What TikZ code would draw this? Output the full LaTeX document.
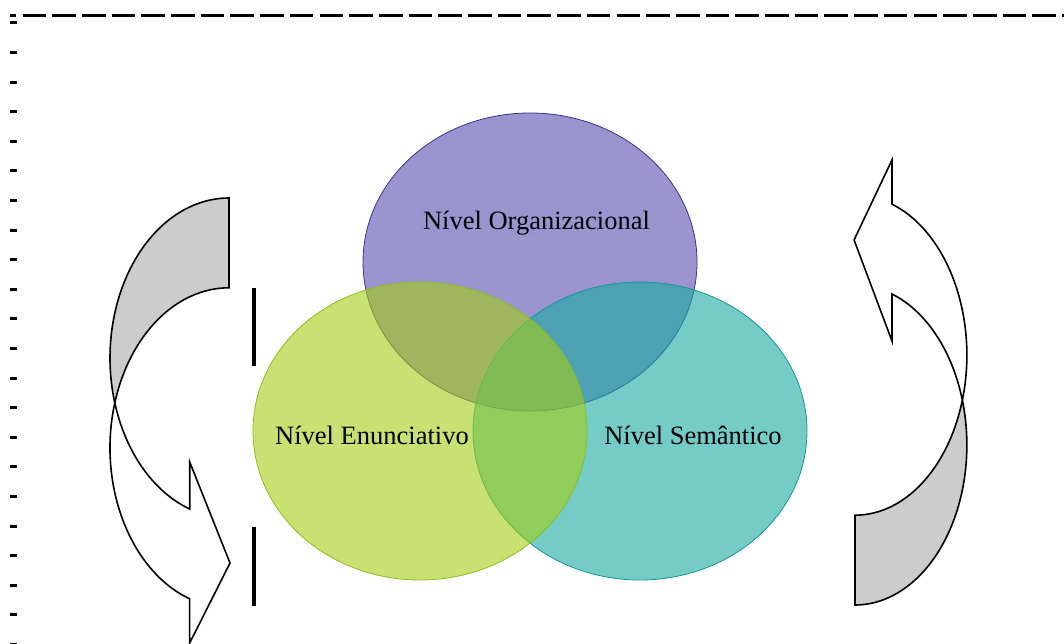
\documentclass[tikz,border=0pt]{standalone}
\usepackage{fontspec}
\setmainfont{Liberation Serif}
\usepackage{tikz}
\usetikzlibrary{shapes.geometric}

\definecolor{orgfill}{RGB}{88,76,175}
\definecolor{orgline}{RGB}{60,50,140}
\definecolor{enufill}{RGB}{163,205,20}
\definecolor{enuline}{RGB}{140,190,30}
\definecolor{semfill}{RGB}{25,170,162}
\definecolor{semline}{RGB}{20,150,150}

\begin{document}
\begin{tikzpicture}[
x=1pt,y=1pt,
nivel/.style={ellipse,inner sep=0,minimum width=334pt,minimum height=298pt,fill opacity=0.6,line width=0.8pt},
rotulo/.style={font=\fontsize{26.5}{30}\selectfont,anchor=base},
seta/.style={draw=black,line width=1.6pt,line join=miter},
marca/.style={line width=3pt}
]
\useasboundingbox (0,0) rectangle (1064,644);
% moldura tracejada
\draw[marca,dash pattern=on 23.6pt off 6.1pt,dash phase=17.2pt] (10,628) -- (1064,628);
\foreach \k in {0,...,21}
    \draw[marca] (10,{621-29.6*\k}) -- ++(7,0);

% os tres niveis
\node[nivel,draw=orgline,fill=orgfill] (org) at (530,382) {};
\node[nivel,draw=semline,fill=semfill] (sem) at (640,213) {};
\node[nivel,draw=enuline,fill=enufill] (enu) at (420,213) {};
\node[rotulo] (torg) at (536.5,414) {Nível Organizacional};
\node[rotulo] (tenu) at (372,199) {Nível Enunciativo};
\node[rotulo] (tsem) at (693,199) {Nível Semântico};

% setas curvas
\foreach \px/\py/\sx/\sy in {229/286/1/1,855/199/-0.94/-1}
{
    \begin{scope}[shift={(\px,\py)},xscale=\sx,yscale=\sy]
    \fill[gray!40] (0,160) arc[start angle=90,end angle=196.3,x radius=119,y radius=160]
        arc[start angle=163.7,end angle=90,x radius=119,y radius=160] -- cycle;
    \draw[seta] (0,160) arc[start angle=90,end angle=196.3,x radius=119,y radius=160]
        arc[start angle=163.7,end angle=250.7,x radius=119,y radius=160]
        -- (-39.3,-285) -- (1,-205) -- (-39.3,-104) -- (-39.3,-151)
        arc[start angle=250.7,end angle=196.3,x radius=119,y radius=160]
        arc[start angle=163.7,end angle=90,x radius=119,y radius=160] -- cycle;
    \end{scope}
}

% barras
\draw[line width=4.5pt] (254,356) -- (254,278);
\draw[line width=4.5pt] (254,117) -- (254,38);
\end{tikzpicture}
\end{document}
